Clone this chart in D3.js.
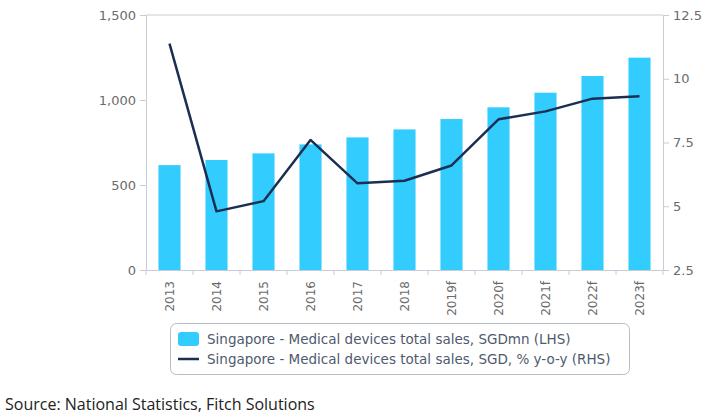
<!DOCTYPE html>
<html><head><meta charset="utf-8">
<script src="https://cdn.jsdelivr.net/npm/d3@7"></script>
<style>body{margin:0;background:#fff}svg{display:block}</style>
</head><body>
<script>
const years = ["2013","2014","2015","2016","2017","2018","2019f","2020f","2021f","2022f","2023f"];
const salesSGDmn = [617,647,686,739,780,827,888,957,1043,1141,1249];
const growthPct = [11.38,4.80,5.20,7.60,5.90,6.00,6.60,8.41,8.72,9.22,9.31];
const leftTicks = [0,500,1000,1500];
const rightTicks = [2.5,5,7.5,10,12.5];
const legendLabels = ["Singapore - Medical devices total sales, SGDmn (LHS)","Singapore - Medical devices total sales, SGD, % y-o-y (RHS)"];
const sourceText = "Source: National Statistics, Fitch Solutions";

const W=708,H=416;
const L=146,R=663,T=15,B=270;
const svg=d3.select("body").append("svg").attr("width",W).attr("height",H);
const font="DejaVu Sans, Verdana, sans-serif";
const axisCol="#c8ccd6", txtCol="#6b6b6b";

const x=d3.scaleBand().domain(years).range([L,R]).paddingInner(0.53).paddingOuter(0.265);
const xb=d3.scaleBand().domain(years).range([L,R]);
const yL=d3.scaleLinear().domain([0,1500]).range([B,T]);
const yR=d3.scaleLinear().domain([2.5,12.5]).range([B,T]);

svg.append("line").attr("x1",L).attr("x2",R).attr("y1",T).attr("y2",T).attr("stroke",axisCol);

svg.append("g").selectAll("rect").data(years).join("rect")
  .attr("x",d=>x(d)).attr("width",x.bandwidth())
  .attr("y",(d,i)=>yL(salesSGDmn[i])).attr("height",(d,i)=>B-yL(salesSGDmn[i]))
  .attr("fill","#33ccff");

const line=d3.line().x((d,i)=>xb(years[i])+xb.bandwidth()/2).y(d=>yR(d));
svg.append("path").datum(growthPct).attr("d",line).attr("fill","none")
  .attr("stroke","#1b2f52").attr("stroke-width",2.5).attr("stroke-linejoin","round");

const gl=svg.append("g").attr("transform",`translate(${L},0)`)
  .call(d3.axisLeft(yL).tickValues(leftTicks).tickFormat(d3.format(",")).tickSize(6).tickPadding(4));
const gr=svg.append("g").attr("transform",`translate(${R},0)`)
  .call(d3.axisRight(yR).tickValues(rightTicks).tickFormat(d=>d).tickSize(6).tickPadding(4));
const gb=svg.append("g").attr("transform",`translate(0,${B})`)
  .call(d3.axisBottom(x).tickSize(0).tickPadding(8));
gb.selectAll(".tick text").attr("transform","rotate(-90)").attr("text-anchor","end")
  .attr("x",-11).attr("y",0).attr("dy","0.35em").attr("dx",0);
svg.append("g").selectAll("line").data(d3.range(years.length+1)).join("line")
  .attr("x1",i=>L+i*xb.step()).attr("x2",i=>L+i*xb.step()).attr("y1",B).attr("y2",B+5)
  .attr("stroke",axisCol);

[gl,gr,gb].forEach(g=>{
  g.selectAll(".domain").attr("stroke",axisCol);
  g.selectAll(".tick line").attr("stroke",axisCol);
  g.selectAll("text").attr("fill",txtCol).style("font-family",font);
});
gl.selectAll("text").style("font-size","13px");
gr.selectAll("text").style("font-size","13px");
gb.selectAll("text").style("font-size","12px");

const lg=svg.append("g");
lg.append("rect").attr("x",170.5).attr("y",323.5).attr("width",459).attr("height",51).attr("rx",6)
  .attr("fill","#fff").attr("stroke","#b8bcc4");
lg.append("rect").attr("x",178).attr("y",332).attr("width",21).attr("height",14).attr("rx",3).attr("fill","#33ccff");
lg.append("line").attr("x1",178).attr("x2",199).attr("y1",359).attr("y2",359).attr("stroke","#1b2f52").attr("stroke-width",2.5);
lg.selectAll("text").data(legendLabels).join("text")
  .attr("x",207).attr("y",(d,i)=>344+i*20).text(d=>d)
  .attr("fill","#4e5a6e").style("font-family",font).style("font-size","13.5px");

svg.append("text").attr("x",5).attr("y",410).text(sourceText)
  .attr("fill","#222").style("font-family","Open Sans, sans-serif").style("font-size","16px");
</script>
</body></html>
